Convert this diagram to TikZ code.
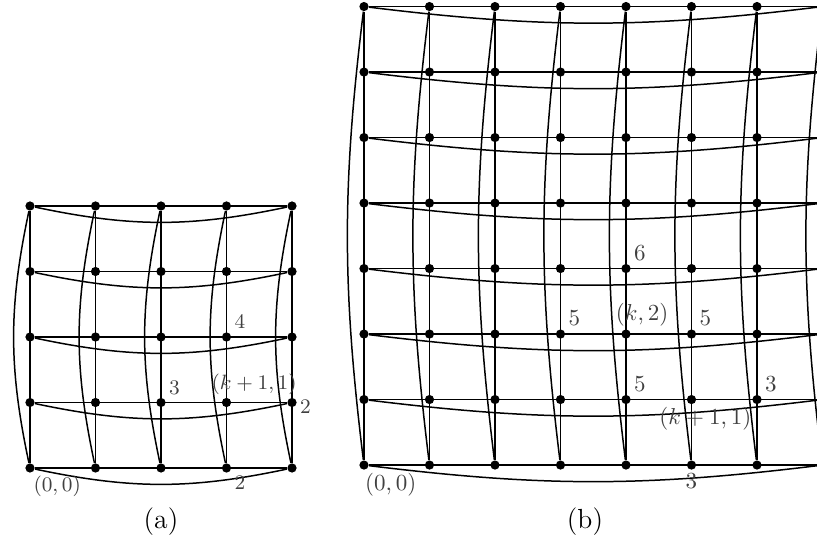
\documentclass[tikz,border=0pt]{standalone}
\usetikzlibrary{positioning}
\tikzset{
  dot/.style={circle,fill=black,inner sep=0pt,minimum size=4pt},
  link/.style={line width=0.65pt},
  lab/.style={text=black!75},
  captxt/.style={font=\large}
}

\begin{document}
\begin{tikzpicture}
	\useasboundingbox (0,0) rectangle (12.473,8.321);
	\def\na{4}
	\def\nb{7}
	
	% (a) 5 x 5
	\begin{scope}[shift={(0.458,1.176)}]
		\foreach \i in {0,...,\na}
			\foreach \j in {0,...,\na}
				\node[dot] (a-\i-\j) at (\i,\j) {};
		\foreach \k in {0,...,\na}{
			\draw[link] (a-0-\k) -- (a-\na-\k);
			\draw[link] (a-\k-0) -- (a-\k-\na);
			\draw[link] (a-0-\k) to[bend right=12] (a-\na-\k);
			\draw[link] (a-\k-0) to[bend left=12] (a-\k-\na);
		}
		\node[lab,font=\small,below right,xshift=-2pt] (a-o) at (a-0-0) {$(0,0)$};
		\node[lab,font=\small,above right] (a-l3) at (a-2-1) {$3$};
		\node[lab,font=\small,above right] (a-l4) at (a-3-2) {$4$};
		\node[lab,font=\small,above] (a-k) at ([xshift=12pt]a-3-1) {$(k+1,1)$};
		\node[lab,font=\small,right,yshift=-2pt] (a-r2) at (a-4-1) {$2$};
		\node[lab,font=\small,below right] (a-b2) at (a-3-0) {$2$};
	\end{scope}
	
	% (b) 8 x 8
	\begin{scope}[shift={(5.557,1.221)}]
		\foreach \i in {0,...,\nb}
			\foreach \j in {0,...,\nb}
				\node[dot] (b-\i-\j) at (\i,\j) {};
		\foreach \k in {0,...,\nb}{
			\draw[link] (b-0-\k) -- (b-\nb-\k);
			\draw[link] (b-\k-0) -- (b-\k-\nb);
			\draw[link] (b-0-\k) to[bend right=7] (b-\nb-\k);
			\draw[link] (b-\k-0) to[bend left=7] (b-\k-\nb);
		}
		\node[lab,below right,xshift=-3pt] (b-o) at (b-0-0) {$(0,0)$};
		\node[lab,above right] (b-l6) at (b-4-3) {$6$};
		\node[lab,above right] (b-l5a) at (b-3-2) {$5$};
		\node[lab,above] (b-k2) at ([xshift=7pt]b-4-2) {$(k,2)$};
		\node[lab,above right] (b-l5b) at (b-5-2) {$5$};
		\node[lab,above right] (b-l5c) at (b-4-1) {$5$};
		\node[lab,above right] (b-l3a) at (b-6-1) {$3$};
		\node[lab,below] (b-k1) at ([xshift=6pt]b-5-1) {$(k+1,1)$};
		\node[lab,below] (b-l3b) at (b-5-0) {$3$};
	\end{scope}
	
	\node[captxt] (cap-a) at (2.458,0.351) {(a)};
	\node[captxt] (cap-b) at (8.931,0.351) {(b)};
\end{tikzpicture}
\end{document}
